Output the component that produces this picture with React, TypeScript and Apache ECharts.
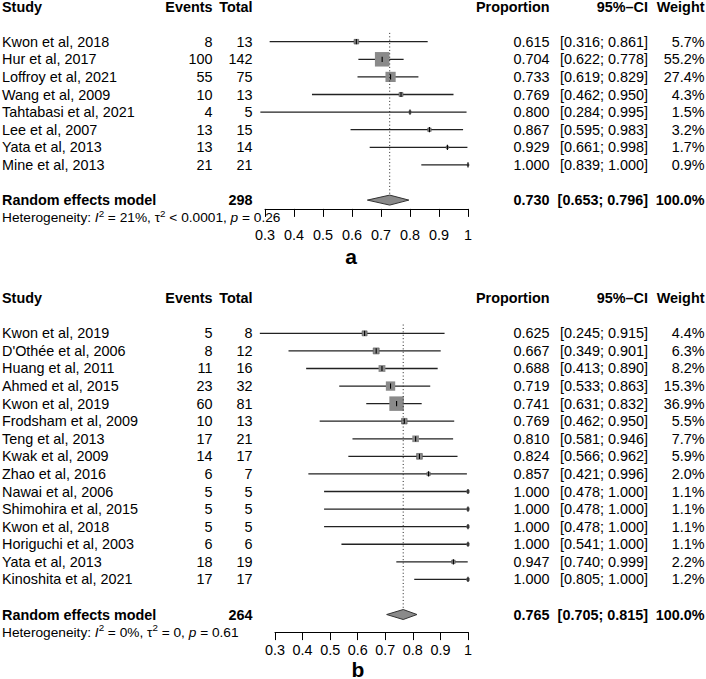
import React, { useEffect, useRef } from 'react';
import * as echarts from 'echarts';

const FONT = '"Liberation Sans", Arial, Helvetica, sans-serif';

// ---------- Panel a ----------
const studiesA = ['Kwon et al, 2018', 'Hur et al, 2017', 'Loffroy et al, 2021', 'Wang et al, 2009', 'Tahtabasi et al, 2021', 'Lee et al, 2007', 'Yata et al, 2013', 'Mine et al, 2013'];
const eventsA = [8, 100, 55, 10, 4, 13, 13, 21];
const totalA = [13, 142, 75, 13, 5, 15, 14, 21];
const propA = [0.615, 0.704, 0.733, 0.769, 0.8, 0.867, 0.929, 1.0];
const lowerA = [0.316, 0.622, 0.619, 0.462, 0.284, 0.595, 0.661, 0.839];
const upperA = [0.861, 0.778, 0.829, 0.95, 0.995, 0.983, 0.998, 1.0];
const weightA = [5.7, 55.2, 27.4, 4.3, 1.5, 3.2, 1.7, 0.9];
const pooledA = [0.73, 0.653, 0.796];
const pooledTotalA = 298;
// heterogeneity segments: [text, style] where style n = normal, i = italic, s = superscript
const hetA: [string, string][] = [['Heterogeneity: ', 'n'], ['I', 'i'], ['2', 's'], [' = 21%, τ', 'n'], ['2', 's'], [' < 0.0001, ', 'n'], ['p', 'i'], [' = 0.26', 'n']];

// ---------- Panel b ----------
const studiesB = ['Kwon et al, 2019', "D'Othée et al, 2006", 'Huang et al, 2011', 'Ahmed et al, 2015', 'Kwon et al, 2019', 'Frodsham et al, 2009', 'Teng et al, 2013', 'Kwak et al, 2009', 'Zhao et al, 2016', 'Nawai et al, 2006', 'Shimohira et al, 2015', 'Kwon et al, 2018', 'Horiguchi et al, 2003', 'Yata et al, 2013', 'Kinoshita et al, 2021'];
const eventsB = [5, 8, 11, 23, 60, 10, 17, 14, 6, 5, 5, 5, 6, 18, 17];
const totalB = [8, 12, 16, 32, 81, 13, 21, 17, 7, 5, 5, 5, 6, 19, 17];
const propB = [0.625, 0.667, 0.688, 0.719, 0.741, 0.769, 0.81, 0.824, 0.857, 1.0, 1.0, 1.0, 1.0, 0.947, 1.0];
const lowerB = [0.245, 0.349, 0.413, 0.533, 0.631, 0.462, 0.581, 0.566, 0.421, 0.478, 0.478, 0.478, 0.541, 0.74, 0.805];
const upperB = [0.915, 0.901, 0.89, 0.863, 0.832, 0.95, 0.946, 0.962, 0.996, 1.0, 1.0, 1.0, 1.0, 0.999, 1.0];
const weightB = [4.4, 6.3, 8.2, 15.3, 36.9, 5.5, 7.7, 5.9, 2.0, 1.1, 1.1, 1.1, 1.1, 2.2, 1.2];
const pooledB = [0.765, 0.705, 0.815];
const pooledTotalB = 264;
const hetB: [string, string][] = [['Heterogeneity: ', 'n'], ['I', 'i'], ['2', 's'], [' = 0%, τ', 'n'], ['2', 's'], [' = 0, ', 'n'], ['p', 'i'], [' = 0.61', 'n']];

const xTicks = { min: 0.3, max: 1, interval: 0.1 };
const headers = ['Study', 'Events', 'Total', 'Proportion', '95%–CI', 'Weight'];

// column x positions (pixels) and alignments
const COLS = [
  { x: 2, align: 'left' },
  { x: 212.5, align: 'right' },
  { x: 252.5, align: 'right' },
  { x: 549.5, align: 'right' },
  { x: 648, align: 'right' },
  { x: 704.5, align: 'right' },
];

const FS = 14.4;
const HFS = 13.7;
const SUPFS = 9.8;
const LINE = '#222';
const GRAY = '#8a8a8a';

let measureCtx: CanvasRenderingContext2D | null = null;
function measure(text: string, font: string) {
  if (!measureCtx) measureCtx = document.createElement('canvas').getContext('2d');
  if (!measureCtx) return text.length * 7;
  measureCtx.font = font;
  return measureCtx.measureText(text).width;
}

function txt(text: string, col: number, y: number, bold = false) {
  return {
    type: 'text',
    style: {
      text,
      x: COLS[col].x,
      y,
      align: COLS[col].align,
      verticalAlign: 'middle',
      fontSize: FS,
      fontFamily: FONT,
      fontWeight: bold ? 'bold' : 'normal',
      fill: '#000',
    },
  };
}

function hetTexts(segs: [string, string][], y: number) {
  let x = 2;
  return segs.map(([t, k]) => {
    const size = k === 's' ? SUPFS : HFS;
    const italic = k === 'i';
    const w = measure(t, `${italic ? 'italic ' : ''}${size}px ${FONT}`);
    const el = {
      type: 'text',
      style: {
        text: t,
        x,
        y: k === 's' ? y - 4.5 : y,
        align: 'left',
        verticalAlign: 'middle',
        fontSize: size,
        fontStyle: italic ? 'italic' : 'normal',
        fontFamily: FONT,
        fill: '#000',
      },
    };
    x += w;
    return el;
  });
}

function fmtCI(lo: number, hi: number) {
  return `[${lo.toFixed(3)}; ${hi.toFixed(3)}]`;
}

interface Panel {
  studies: string[];
  events: number[];
  total: number[];
  prop: number[];
  lower: number[];
  upper: number[];
  weight: number[];
  pooled: number[];
  pooledTotal: number;
  het: [string, string][];
  pooledRow: number;
  hetRow: number;
}

function panelSeries(p: Panel, gi: number) {
  const wmax = Math.max(...p.weight);
  const MAXSQ = 14.5;
  const studyData = p.prop.map((v, i) => [i, v, p.lower[i], p.upper[i], p.weight[i]]);
  const studySeries = {
    type: 'custom',
    xAxisIndex: gi,
    yAxisIndex: gi,
    clip: false,
    silent: true,
    encode: { x: [1, 2, 3], y: 0 },
    data: studyData,
    renderItem: (params: any, api: any) => {
      const i = params.dataIndex;
      const row = api.value(0);
      const est = api.value(1);
      const lo = api.value(2);
      const hi = api.value(3);
      const w = api.value(4);
      const pE = api.coord([est, row]);
      const pL = api.coord([lo, row]);
      const pH = api.coord([hi, row]);
      const y = pE[1];
      const s = Math.max(2, MAXSQ * Math.sqrt(w / wmax));
      return {
        type: 'group',
        children: [
          { type: 'line', shape: { x1: pL[0], y1: y, x2: pH[0], y2: y }, style: { stroke: LINE, lineWidth: 1.3 } },
          { type: 'rect', shape: { x: pE[0] - s / 2, y: y - s / 2, width: s, height: s }, style: { fill: GRAY, stroke: s < 6 ? '#555' : null, lineWidth: 0.6 } },
          { type: 'line', shape: { x1: pE[0], y1: y - 2.6, x2: pE[0], y2: y + 2.6 }, style: { stroke: '#000', lineWidth: 1.1 } },
          txt(p.studies[i], 0, y),
          txt(String(p.events[i]), 1, y),
          txt(String(p.total[i]), 2, y),
          txt(p.prop[i].toFixed(3), 3, y),
          txt(fmtCI(p.lower[i], p.upper[i]), 4, y),
          txt(`${p.weight[i].toFixed(1)}%`, 5, y),
        ],
      };
    },
  };
  const pooledSeries = {
    type: 'custom',
    xAxisIndex: gi,
    yAxisIndex: gi,
    clip: false,
    silent: true,
    encode: { x: [1, 2, 3], y: 0 },
    data: [[p.pooledRow, p.pooled[0], p.pooled[1], p.pooled[2]]],
    renderItem: (params: any, api: any) => {
      const row = api.value(0);
      const est = api.value(1);
      const lo = api.value(2);
      const hi = api.value(3);
      const pE = api.coord([est, row]);
      const pL = api.coord([lo, row]);
      const pH = api.coord([hi, row]);
      const y = pE[1];
      const top = api.coord([est, -0.5]);
      const hy = api.coord([est, -2])[1];
      const hetY = api.coord([est, p.hetRow])[1];
      const dh = 5;
      return {
        type: 'group',
        children: [
          { type: 'line', shape: { x1: pE[0], y1: top[1], x2: pE[0], y2: y - dh }, style: { stroke: '#222', lineWidth: 1, lineDash: [1, 2.4] } },
          { type: 'polygon', shape: { points: [[pL[0], y], [pE[0], y - dh], [pH[0], y], [pE[0], y + dh]] }, style: { fill: GRAY, stroke: '#333', lineWidth: 1 } },
          ...headers.map((h, k) => txt(h, k, hy, true)),
          txt('Random effects model', 0, y, true),
          txt(String(p.pooledTotal), 2, y, true),
          txt(est.toFixed(3), 3, y, true),
          txt(fmtCI(lo, hi), 4, y, true),
          txt('100.0%', 5, y, true),
          ...hetTexts(p.het, hetY),
        ],
      };
    },
  };
  return [studySeries, pooledSeries];
}

const panelA: Panel = {
  studies: studiesA, events: eventsA, total: totalA, prop: propA, lower: lowerA, upper: upperA, weight: weightA,
  pooled: pooledA, pooledTotal: pooledTotalA, het: hetA, pooledRow: 9, hetRow: 10,
};
const panelB: Panel = {
  studies: studiesB, events: eventsB, total: totalB, prop: propB, lower: lowerB, upper: upperB, weight: weightB,
  pooled: pooledB, pooledTotal: pooledTotalB, het: hetB, pooledRow: 16, hetRow: 17,
};

function xAxis(gi: number, margin: number) {
  return {
    type: 'value',
    gridIndex: gi,
    min: xTicks.min,
    max: xTicks.max,
    interval: xTicks.interval,
    axisLine: { show: true, onZero: false, lineStyle: { color: '#000', width: 1 } },
    axisTick: { show: true, length: 8, lineStyle: { color: '#000', width: 1 } },
    axisLabel: { show: true, color: '#000', fontSize: FS, fontFamily: FONT, margin, formatter: (v: number) => String(Math.round(v * 10) / 10) },
    splitLine: { show: false },
  };
}

export default function App() {
  const ref = useRef<HTMLDivElement>(null);
  useEffect(() => {
    if (!ref.current) return;
    const chart = echarts.init(ref.current, undefined, { renderer: 'svg' });
    const option = {
      animation: false,
      backgroundColor: '#fff',
      textStyle: { fontFamily: FONT },
      grid: [
        { left: 265, width: 203, top: 6.5, height: 202.4 },
        { left: 275, width: 193, top: 298.2, height: 333.9 },
      ],
      xAxis: [xAxis(0, 19), xAxis(1, 11)],
      yAxis: [
        { type: 'value', gridIndex: 0, inverse: true, min: -2, max: 9.5, show: false },
        { type: 'value', gridIndex: 1, inverse: true, min: -2, max: 17, show: false },
      ],
      graphic: [
        { type: 'text', x: 351, y: 256, style: { text: 'a', align: 'center', verticalAlign: 'middle', fontSize: 21, fontWeight: 'bold', fontFamily: FONT, fill: '#000' } },
        { type: 'text', x: 358, y: 669, style: { text: 'b', align: 'center', verticalAlign: 'middle', fontSize: 21, fontWeight: 'bold', fontFamily: FONT, fill: '#000' } },
      ],
      series: [...panelSeries(panelA, 0), ...panelSeries(panelB, 1)],
    };
    chart.setOption(option as any);
    return () => chart.dispose();
  }, []);
  return <div ref={ref} style={{ position: 'absolute', left: 0, top: 0, width: 706, height: 679 }} />;
}
